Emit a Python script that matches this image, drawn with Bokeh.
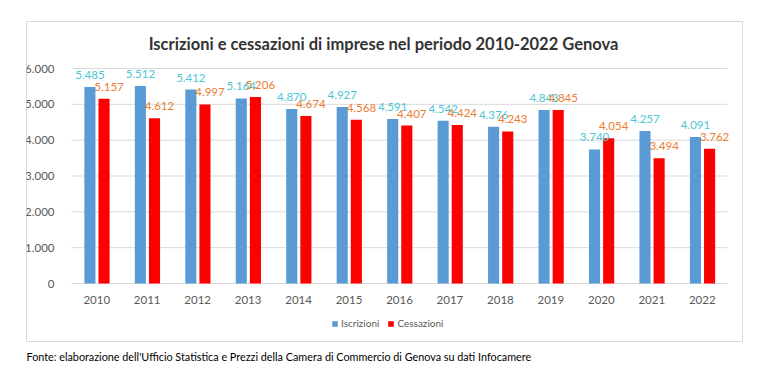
from bokeh.plotting import figure
from bokeh.models import (ColumnDataSource, LabelSet, Label, Legend, LegendItem, Title,
                          CustomJSTickFormatter, FixedTicker, Range1d)
from bokeh.core.properties import value
from bokeh.embed import file_html
from bokeh.resources import INLINE

years = ["2010", "2011", "2012", "2013", "2014", "2015", "2016",
         "2017", "2018", "2019", "2020", "2021", "2022"]
iscrizioni = [5485, 5512, 5412, 5164, 4870, 4927, 4591, 4542, 4376, 4843, 3740, 4257, 4091]
cessazioni = [5157, 4612, 4997, 5206, 4674, 4568, 4407, 4424, 4243, 4845, 4054, 3494, 3762]
y_ticks = [0, 1000, 2000, 3000, 4000, 5000, 6000]
title_text = "Iscrizioni e cessazioni di imprese nel periodo 2010-2022 Genova"
source_text = "Fonte: elaborazione dell'Ufficio Statistica e Prezzi della Camera di Commercio di Genova su dati Infocamere"


def fmt(v):
    s = str(v)
    return s[:-3] + "." + s[-3:] if len(s) > 3 else s


n = len(years)
centers = [i + 0.5 for i in range(n)]
DODGE_B, DODGE_R, BAR_W = -0.135, 0.145, 0.22

src = ColumnDataSource(dict(
    xb=[c + DODGE_B for c in centers], xr=[c + DODGE_R for c in centers],
    isc=iscrizioni, ces=cessazioni,
    isc_lbl=[fmt(v) for v in iscrizioni], ces_lbl=[fmt(v) for v in cessazioni],
))
grid_src = ColumnDataSource(dict(x0=[0] * len(y_ticks), x1=[n] * len(y_ticks), y=y_ticks))

FONT = "Lato"
W, H = 768, 383
# chart box (= plot frame) in page pixels
BOX_L, BOX_R, BOX_T, BOX_B = 26, 742, 21, 341
# plotting area inside the box
PA_L, PA_R, PA_T, PA_B = 71, 727, 68, 283
px_per_unit_x = (PA_R - PA_L) / n
px_per_unit_y = (PA_B - PA_T) / 6000
x_start = -(PA_L - BOX_L) / px_per_unit_x
x_end = n + (BOX_R - PA_R) / px_per_unit_x
y_start = -(BOX_B - PA_B) / px_per_unit_y
y_end = 6000 + (PA_T - BOX_T) / px_per_unit_y

p = figure(x_range=Range1d(x_start, x_end), y_range=Range1d(y_start, y_end),
           frame_width=BOX_R - BOX_L, frame_height=BOX_B - BOX_T,
           output_backend="svg", toolbar_location=None,
           min_border_left=BOX_L, min_border_right=W - BOX_R,
           min_border_top=BOX_T, min_border_bottom=H - BOX_B)
p.outline_line_color = "#d9d9d9"
p.outline_line_width = 1
p.background_fill_color = "white"
p.border_fill_color = "white"
p.xgrid.grid_line_color = None
p.ygrid.grid_line_color = None

BLUE = "#5b9bd5"
RED = "#ff0000"

# horizontal gridlines across the plotting area
p.segment(x0="x0", x1="x1", y0="y", y1="y", source=grid_src, line_color="#d9d9d9", line_width=1)

r1 = p.vbar(x="xb", top="isc", width=BAR_W, source=src, fill_color=BLUE, line_color=None)
r2 = p.vbar(x="xr", top="ces", width=BAR_W, source=src, fill_color=RED, line_color=None)

l1 = LabelSet(x="xb", y="isc", text="isc_lbl", source=src,
              text_align="center", text_baseline="bottom", y_offset=8,
              text_font=value(FONT), text_font_size="11.5px", text_color="#4bc6d4")
l2 = LabelSet(x="xr", y="ces", text="ces_lbl", source=src,
              text_align="center", text_baseline="bottom", y_offset=8, x_offset=5,
              text_font=value(FONT), text_font_size="11.5px", text_color="#ed7d31")
p.add_layout(l1)
p.add_layout(l2)

# axes, fixed at the plotting area's origin
p.yaxis.ticker = FixedTicker(ticks=y_ticks)
p.yaxis.formatter = CustomJSTickFormatter(code="""
    if (tick >= 1000) { const t = Math.round(tick); return Math.floor(t/1000) + '.' + String(t%1000).padStart(3,'0'); }
    return String(tick);
""")
p.yaxis.fixed_location = 0
p.xaxis.ticker = FixedTicker(ticks=centers)
p.xaxis.major_label_overrides = {c: y for c, y in zip(centers, years)}
p.xaxis.fixed_location = 0
for ax in (p.xaxis, p.yaxis):
    ax.axis_line_color = None
    ax.major_tick_line_color = None
    ax.minor_tick_line_color = None
    ax.major_label_text_font = FONT
    ax.major_label_text_font_size = "11.5px"
    ax.major_label_text_color = "#595959"
p.yaxis.major_label_standoff = 11
p.xaxis.major_label_standoff = 6

# legend inside the chart box, under the axis labels
legend = Legend(items=[LegendItem(label="Iscrizioni", renderers=[r1]),
                       LegendItem(label="Cessazioni", renderers=[r2])],
                orientation="horizontal", location=(305, 12),
                glyph_width=7, glyph_height=7, spacing=8, label_standoff=3,
                label_text_font=FONT, label_text_font_size="10px", label_text_color="#595959",
                border_line_color=None, background_fill_alpha=0, padding=2, margin=0,
                label_height=12)
p.add_layout(legend)

title = Label(x=383 - BOX_L, y=BOX_B - 43, x_units="screen", y_units="screen", text=title_text,
              text_align="center", text_baseline="middle", text_font=FONT,
              text_font_size="16.5px", text_font_style="bold", text_color="#333333")
p.add_layout(title)

source = Title(text=source_text, align="left", offset=0, standoff=12,
               text_font=FONT, text_font_size="10.8px", text_font_style="normal",
               text_color="#000000")
p.add_layout(source, "below")

open("out.html", "w").write(file_html(p, INLINE))
